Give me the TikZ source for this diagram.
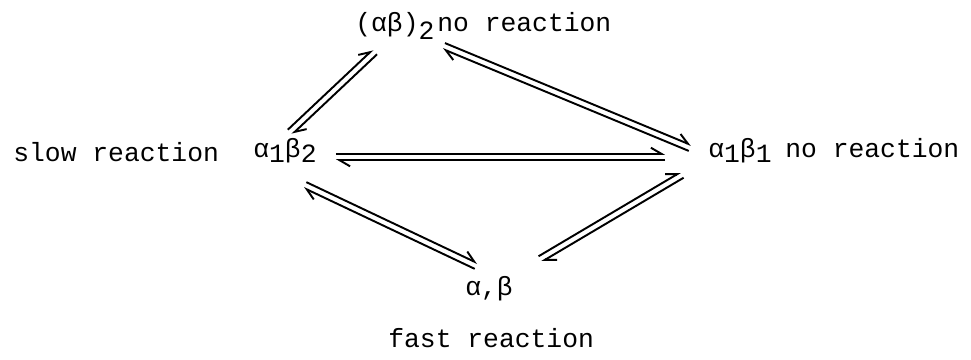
\documentclass[tikz,border=0pt]{standalone}
\usepackage{fontspec}
\newfontfamily\typefont{Liberation Mono}
\usetikzlibrary{arrows.meta,calc}
\tikzset{
    species/.style={inner sep=0pt, anchor=base west, font=\typefont\fontsize{15}{18}\selectfont},
    remark/.style={inner sep=0pt, anchor=base west, font=\typefont\fontsize{15}{18}\selectfont},
    harp/.style={-{Straight Barb[left, length=6pt, width=7pt]}, line width=1.1pt},
}
\newcommand{\eqgap}{1.8pt}
\newcommand{\lowr}[2][3pt]{\raisebox{-#1}{#2}}
% pair of harpoons, forward one on the left of a -> b
\newcommand{\equil}[2]{%
    \draw[harp] ($(#1)!\eqgap!90:(#2)$) -- ($(#2)!\eqgap!-90:(#1)$);
    \draw[harp] ($(#2)!\eqgap!90:(#1)$) -- ($(#1)!\eqgap!-90:(#2)$);
}

\begin{document}
\begin{tikzpicture}[x=0.02cm, y=-0.02cm]
    \useasboundingbox (0,0) rectangle (971,359);

    \node[species] (ab2) at (355,31) {(αβ)\lowr[5pt]{2}};
    \node[remark] (nr2) at (437,31) {no reaction};
    \node[remark] (slow) at (13,161) {slow reaction};
    \node[species] (a12b2) at (253,157) {α\lowr{1}β\lowr{2}};
    \node[species] (a11b1) at (708,157) {α\lowr{1}β\lowr{1}};
    \node[remark] (nr1) at (785,157) {no reaction};
    \node[species] (ab) at (465,295) {α,β};
    \node[remark] (fast) at (388,347) {fast reaction};

    \equil{[shift={(5,-25)}]a12b2.base}{[shift={(-20,21)}]ab2.base}
    \equil{[shift={(9,15)}]ab2.base east}{[shift={(-18,-9)}]a11b1.base west}
    \equil{[shift={(19,0)}]a12b2.base east}{[shift={(-43,0)}]a11b1.base west}
    \equil{[shift={(20,28)}]a12b2.base}{[shift={(-13,-29)}]ab.base}
    \equil{[shift={(27,-36)}]ab.base east}{[shift={(-26,18)}]a11b1.base west}
\end{tikzpicture}
\end{document}
